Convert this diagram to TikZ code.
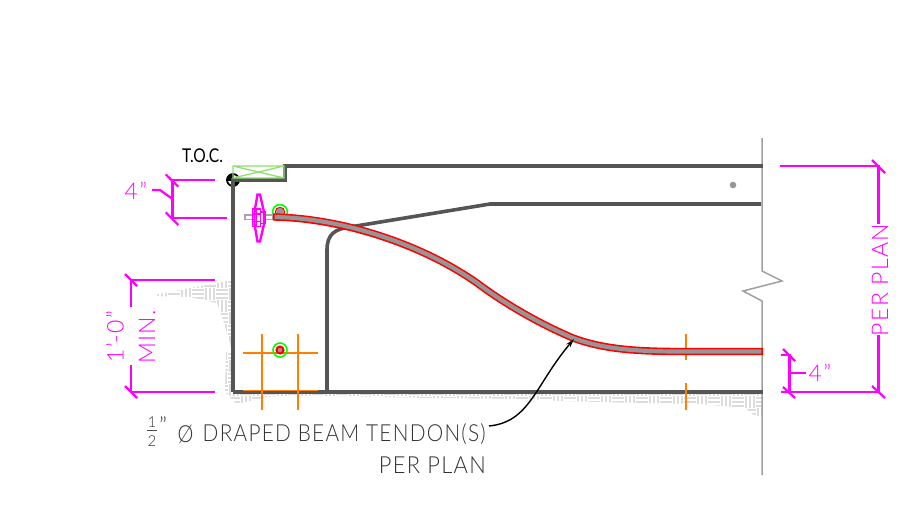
\documentclass[tikz,border=0pt]{standalone}
\usepackage{fontspec}
\usetikzlibrary{arrows.meta}
\setmainfont{Lato}[UprightFont=* Light,LetterSpace=6]
\newfontfamily\boldish{Lato}
\definecolor{wall}{HTML}{555555}
\definecolor{brk}{HTML}{A0A0A0}
\definecolor{dim}{HTML}{FF00FF}
\definecolor{rebar}{HTML}{FF8000}
\definecolor{tgray}{HTML}{969696}
\definecolor{lgreen}{HTML}{90E070}
\definecolor{hatchc}{HTML}{DCDCDC}
\tikzset{
  wallline/.style={draw=wall,line width=3.6pt},
  dimline/.style={draw=dim,line width=2.2pt},
  rebarline/.style={draw=rebar,line width=1.7pt},
  dimtext/.style={text=dim,font=\fontsize{23}{23}\selectfont,inner sep=0pt},
  notetext/.style={text=black!80,font=\fontsize{23.5}{23.5}\selectfont,inner sep=0pt},
  fractext/.style={text=black!80,font=\fontsize{15}{15}\selectfont,inner sep=0pt},
  hatchline/.style={draw=hatchc,line width=1.2pt},
}
\newcommand{\herring}[4]{%
  \foreach \i in {#1,...,#2}{\foreach \j in {#3,...,#4}{%
    \pgfmathtruncatemacro{\m}{mod(\i+\j+100,2)}%
    \pgfmathsetmacro{\xx}{\i*12}\pgfmathsetmacro{\yy}{\j*12}%
    \ifnum\m=0
      \draw[hatchline] (\xx,\yy+2)--(\xx+12,\yy+2) (\xx,\yy+6)--(\xx+12,\yy+6) (\xx,\yy+10)--(\xx+12,\yy+10);
    \else
      \draw[hatchline] (\xx+2,\yy)--(\xx+2,\yy+12) (\xx+6,\yy)--(\xx+6,\yy+12) (\xx+10,\yy)--(\xx+10,\yy+12);
    \fi}}}
\begin{document}
\begin{tikzpicture}[x=1pt,y=-1pt]
\useasboundingbox (0,0) rectangle (900,506);
\fill[white] (0,0) rectangle (900,506);
% concrete hatch
\begin{scope}
  \clip (149,296)--(232,280)--(232,350)--(223,320)--(217,303)--(190,297)--cycle;
  \herring{12}{19}{23}{29}
\end{scope}
\begin{scope}
  \clip (226,352)--(232,352)--(232,393)--(763,393)--(763,416)--(755,416)--(745,408)--(700,404)--(640,403)--(560,401)--(530,399)--(430,398)--(300,395.5)--(267,397)--(237,404)--(225,392)--cycle;
  \herring{18}{64}{29}{35}
\end{scope}
% T.O.C. marker
\fill[black] (233,180)--(227,180) .. controls (227,176.7) and (229.7,174) .. (233,174)--cycle;
\fill[black] (233,180)--(239,180) .. controls (239,183.3) and (236.3,186) .. (233,186)--cycle;
\draw[black,line width=1.8pt] (233,180) circle (6);
\draw[black,line width=1.4pt] (225.5,180)--(240,180) (233,172.5)--(233,187);
% break line
\draw[brk,line width=1.5pt] (762,138)--(762,271)--(782,281)--(743,291)--(762,301)--(762,475);
% beam outline
\draw[wallline] (233,392)--(233,180)--(285,180)--(285,166)--(763,166);
\draw[wallline] (233,392)--(763,392);
\draw[wallline] (327,392)--(327,250) .. controls (327,234) and (335,229) .. (350,227)--(490,204)--(761,204);
% top-of-concrete hatch box
\draw[lgreen,line width=1.3pt] (233,166) rectangle (284,178) (233,166)--(284,178) (233,178)--(284,166);
\node[font=\boldish\fontsize{19}{19}\selectfont,text=black,inner sep=0pt,anchor=center] (toc) at (202.5,156) {\scalebox{.82}[1]{T.O.C.}};
% gray dot
\fill[tgray] (733,185) circle (3.3);
% rebar
\draw[rebarline] (243,353)--(318,353) (243,390.5)--(318,390.5) (262,334)--(262,410) (298,334)--(298,410);
\draw[rebarline] (686,334)--(686,360) (686,383)--(686,410);
% strands
\draw[green,line width=1.6pt] (280,212) circle (7.4);
\draw[red,line width=1.2pt] (280,212) circle (4.6);
\fill[tgray] (280,212) circle (4);
\draw[green,line width=1.6pt] (280,350) circle (7);
\fill[red] (280,350) circle (4.6);
\fill[tgray] (280,350) circle (2.2);
% rod and anchor
\draw[tgray!85,line width=1.6pt,fill=white] (245,215) rectangle (273,219.5);
\draw[dim,line width=2.4pt,fill=white] (257.5,194.5)--(260,194.5)--(264,212)--(264,224)--(260,241.5)--(257.5,241.5)--(254.5,224)--(254.5,212)--cycle;
\draw[dim,line width=1.8pt] (252.5,209) rectangle (260.5,226.5) (260.5,212) rectangle (265,223.5);
\draw[dim,line width=1.2pt] (252.5,214)--(260.5,214) (252.5,221.5)--(260.5,221.5) (256.5,209)--(256.5,226.5);
% tendon
\draw[red,line width=7.4pt] (273,217) .. controls (340,218) and (420,243) .. (477,283) .. controls (505,304) and (540,324) .. (573,338) .. controls (600,348) and (630,351.5) .. (680,351.5) -- (763,351.5);
\draw[tgray,line width=4.2pt] (274.6,217) .. controls (340,218) and (420,243) .. (477,283) .. controls (505,304) and (540,324) .. (573,338) .. controls (600,348) and (630,351.5) .. (680,351.5) -- (761.4,351.5);
% dimensions left 4"
\draw[dimline] (215,180)--(172.5,180)--(172.5,218)--(227,218);
\draw[dimline] (165.7,174.3)--(178.3,186.7) (165.7,212.3)--(178.3,225);
\node[dimtext,anchor=center] (dimA) at (136,190.5) {4\symbol{34}};
\coordinate (dimAel) at (172.5,199);
\coordinate (dimAst) at (152,190);
\draw[dimline] (dimAst)--(160,190)--(dimAel);
% dimension 1'-0" min
\draw[dimline] (215,280)--(131,280)--(131,307) (131,365)--(131,392)--(215,392);
\draw[dimline] (125,274)--(137,286) (125,386)--(137,398);
\node[dimtext,rotate=90,anchor=center] (dimB) at (115,336.5) {1\symbol{39}-0\symbol{34}};
\node[dimtext,rotate=90,anchor=center] (dimC) at (147,337) {MIN.};
% right per plan
\draw[dimline] (780,166)--(878.5,166)--(878.5,224) (878.5,335)--(878.5,392)--(781,392);
\draw[dimline] (872,160)--(885,173) (872,386)--(885,398);
\node[dimtext,rotate=90,anchor=center] (dimD) at (880,280) {PER PLAN};
% right 4"
\draw[dimline] (781,355)--(789.5,355)--(789.5,392);
\draw[dimline] (783,349)--(795,361) (783,387)--(795,398);
\coordinate (dimEel) at (789.5,373);
\coordinate (dimEend) at (806,373);
\node[dimtext,anchor=center] (dimE) at (820,373) {4\symbol{34}};
\draw[dimline] (dimEel)--(dimEend);
% note
\node[notetext,anchor=east] (noteA) at (486,434) {\scalebox{.885}[1]{DRAPED BEAM TENDON(S)}};
\node[notetext,anchor=east] (noteB) at (486,465) {\scalebox{.93}[1]{PER PLAN}};
\node[notetext,anchor=center] (noteO) at (185.5,434) {\scalebox{.85}[1]{Ø}};
\node[notetext,anchor=center] (noteQ) at (163,426) {\symbol{34}};
\node[fractext] (fracA) at (152,422) {1};
\node[fractext] (fracB) at (152,441) {2};
\draw[black!70,line width=1pt] (147,430.5)--(157,430.5);
% leader
\coordinate (leadstart) at (489,426);
\coordinate (leadend) at (574,339);
\draw[black,line width=1.4pt,-{Stealth[length=9pt,width=5pt]}] (leadstart) .. controls (530,422) and (535,385) .. (leadend);
\end{tikzpicture}
\end{document}
